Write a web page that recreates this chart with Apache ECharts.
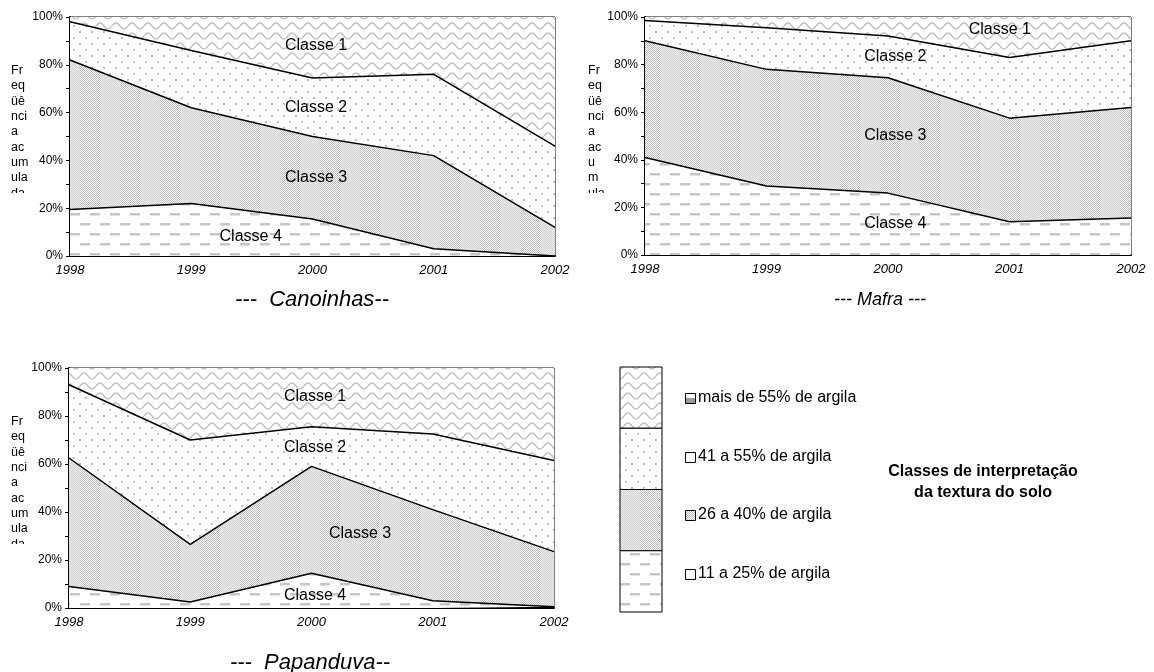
<!DOCTYPE html>
<html>
<head>
<meta charset="utf-8">
<script src="https://cdn.jsdelivr.net/npm/echarts@6/dist/echarts.min.js"></script>
<style>
  html, body { margin: 0; padding: 0; background: #fff; }
  #chart { width: 1154px; height: 672px; }
</style>
</head>
<body>
<div id="chart"></div>
<script>
// Years on the horizontal axis
const years = ['1998', '1999', '2000', '2001', '2002'];
const yTickLabels = ['0%', '20%', '40%', '60%', '80%', '100%'];
const classNames = ['Classe 1', 'Classe 2', 'Classe 3', 'Classe 4'];

// Share of each texture class (%), per year — Canoinhas
const canoinhasC4 = [19.5, 22, 15.5, 3, 0];
const canoinhasC3 = [62.5, 40, 34.5, 39, 12];
const canoinhasC2 = [16, 24, 24.5, 34, 34];
const canoinhasC1 = [2, 14, 25.5, 24, 54];

// Mafra
const mafraC4 = [41, 29, 26, 14, 15.5];
const mafraC3 = [49, 49, 48.5, 43.5, 46.5];
const mafraC2 = [8.5, 17.5, 17.5, 25.5, 28];
const mafraC1 = [1.5, 4.5, 8, 17, 10];

// Papanduva
const papanduvaC4 = [9, 2.5, 14.5, 3, 0.5];
const papanduvaC3 = [53.5, 24, 44.5, 38, 23];
const papanduvaC2 = [30.5, 43.5, 16.5, 31.5, 38];
const papanduvaC1 = [7, 30, 24.5, 27.5, 38.5];

const cityTitles = ['---  Canoinhas--', '--- Mafra ---', '---  Papanduva--'];
const legendLabels = ['mais de 55% de argila', '41 a 55% de argila', '26 a 40% de argila', '11 a 25% de argila'];
const legendTitle = 'Classes de interpretação\nda textura do solo';
const axisNameFull = ['Fr', 'eq', 'üê', 'nci', 'a', 'ac', 'um', 'ula', 'da'];
const axisNameNarrow = ['Fr', 'eq', 'üê', 'nci', 'a', 'ac', 'u', 'm', 'ula'];

// ---- layout ----
const grids = [
  { left: 70, top: 17, width: 485, height: 239 },
  { left: 645, top: 17, width: 486, height: 238 },
  { left: 69, top: 368, width: 485, height: 240 }
];
// class-label anchors, in (year index, percent)
const labelAnchors = [
  [[2.03, 88], [2.03, 62], [2.03, 33], [1.49, 8]],
  [[2.92, 94.5], [2.06, 83.5], [2.06, 50], [2.06, 13]],
  [[2.03, 88], [2.03, 67], [2.4, 31], [2.03, 5]]
];

// ---- fill patterns ----
function tile(w, h, draw) {
  const c = document.createElement('canvas');
  c.width = w; c.height = h;
  const ctx = c.getContext('2d');
  ctx.fillStyle = '#fff';
  ctx.fillRect(0, 0, w, h);
  draw(ctx, w, h);
  return c;
}
const waveTile = tile(16, 10, (ctx) => {
  ctx.strokeStyle = '#c2c2c2';
  ctx.lineWidth = 1.5;
  ctx.beginPath();
  ctx.moveTo(0, 6);
  ctx.quadraticCurveTo(4, 0, 8, 6);
  ctx.quadraticCurveTo(12, 12, 16, 6);
  ctx.stroke();
});
const dotTile = tile(12, 12, (ctx) => {
  ctx.fillStyle = '#c0c0c0';
  ctx.fillRect(1, 1, 2, 2);
  ctx.fillRect(7, 7, 2, 2);
});
// fine checkerboard alternating with lighter vertical bands
const checkTile = tile(40, 8, (ctx, w, h) => {
  const img = ctx.createImageData(w, h);
  for (let y = 0; y < h; y++) {
    for (let x = 0; x < w; x++) {
      const on = (x + y) % 2 === 0;
      let v;
      if (x < 20) v = on ? 186 : 252;
      else v = on ? 212 : 234;
      const i = (y * w + x) * 4;
      img.data[i] = img.data[i + 1] = img.data[i + 2] = v;
      img.data[i + 3] = 255;
    }
  }
  ctx.putImageData(img, 0, 0);
});
const dashTile = tile(20, 20, (ctx) => {
  ctx.fillStyle = '#c6c6c6';
  ctx.fillRect(0, 3, 10, 2.5);
  ctx.fillRect(10, 13, 10, 2.5);
});
const pat = (c) => ({ image: c, repeat: 'repeat' });
const classFills = [pat(waveTile), pat(dotTile), pat(checkTile), pat(dashTile)];

const cityData = [
  [canoinhasC4, canoinhasC3, canoinhasC2, canoinhasC1],
  [mafraC4, mafraC3, mafraC2, mafraC1],
  [papanduvaC4, papanduvaC3, papanduvaC2, papanduvaC1]
];

const chart = echarts.init(document.getElementById('chart'), null, { renderer: 'canvas' });

const gridOpts = grids.map(g => Object.assign({
  show: true, borderColor: '#000', borderWidth: 1, backgroundColor: '#fff', containLabel: false
}, g));

const xAxes = grids.map((g, i) => ({
  type: 'category', gridIndex: i, data: years, boundaryGap: false,
  axisLine: { lineStyle: { color: '#000', width: 2 } },
  axisTick: { show: false },
  axisLabel: { fontFamily: 'Arial, Liberation Sans', fontSize: 13, fontStyle: 'italic', color: '#000', margin: 8 },
  splitLine: { show: false }
}));
const yAxes = grids.map((g, i) => ({
  type: 'value', gridIndex: i, min: 0, max: 100, interval: 20,
  axisLine: { show: true, lineStyle: { color: '#000', width: 2 } },
  axisTick: { show: true, length: 4, lineStyle: { color: '#000' } },
  minorTick: { show: true, splitNumber: 2, length: 4, lineStyle: { color: '#000' } },
  axisLabel: {
    fontFamily: 'Arial, Liberation Sans', fontSize: 12, color: '#000', margin: 7,
    formatter: (v) => yTickLabels[Math.round(v / 20)]
  },
  splitLine: { show: false }
}));

const series = [];
cityData.forEach((classes, gi) => {
  // filled bands, stacked from class 4 upward
  classes.forEach((vals, k) => {
    series.push({
      type: 'line', xAxisIndex: gi, yAxisIndex: gi, stack: 'area' + gi,
      data: vals, symbol: 'none', silent: true, z: 2,
      lineStyle: { width: 0 },
      areaStyle: { color: classFills[3 - k], opacity: 1 }
    });
  });
  // black boundary lines between classes
  classes.slice(0, 3).forEach((vals) => {
    series.push({
      type: 'line', xAxisIndex: gi, yAxisIndex: gi, stack: 'edge' + gi,
      data: vals, symbol: 'none', silent: true, z: 3,
      lineStyle: { color: '#000', width: 1.5 }
    });
  });
});

const font = (size, extra) => (extra ? extra + ' ' : '') + size + 'px Arial, "Liberation Sans", sans-serif';

const graphics = [];
// class labels inside the plots
labelAnchors.forEach((anchors, gi) => {
  const g = grids[gi];
  anchors.forEach((a, k) => {
    graphics.push({
      type: 'text', z: 10,
      x: g.left + a[0] * g.width / 4,
      y: g.top + (1 - a[1] / 100) * g.height,
      style: { text: classNames[k], font: font(16), fill: '#000', align: 'center', verticalAlign: 'middle' }
    });
  });
});
// vertical axis titles, wrapped and clipped at the bottom
const axisTitleSpecs = [
  { x: 11, y: 63, lines: axisNameFull, cut: 193 },
  { x: 588, y: 63, lines: axisNameNarrow, cut: 193 },
  { x: 11, y: 414, lines: axisNameFull, cut: 544 }
];
axisTitleSpecs.forEach(s => {
  graphics.push({
    type: 'text', z: 10, x: s.x, y: s.y,
    style: { text: s.lines.join('\n'), font: font(12.5), lineHeight: 15.3, fill: '#000', align: 'left', verticalAlign: 'top' }
  });
  graphics.push({
    type: 'rect', z: 11, shape: { x: s.x - 4, y: s.cut, width: 30, height: 14 },
    style: { fill: '#fff' }
  });
});
// city captions
const captionSpecs = [
  { x: 312, y: 300, size: 22 },
  { x: 880, y: 300, size: 18 },
  { x: 310, y: 663, size: 22 }
];
cityTitles.forEach((t, i) => {
  const c = captionSpecs[i];
  graphics.push({
    type: 'text', z: 10, x: c.x, y: c.y,
    style: { text: t, font: font(c.size, 'italic'), fill: '#000', align: 'center', verticalAlign: 'middle' }
  });
});
// class key: patterned column
const keyBox = { x: 620, y: 367, w: 42, h: 245 };
const band = keyBox.h / 4;
for (let k = 0; k < 4; k++) {
  graphics.push({
    type: 'rect', z: 10,
    shape: { x: keyBox.x, y: keyBox.y + k * band, width: keyBox.w, height: band },
    style: { fill: classFills[k], stroke: '#000', lineWidth: 1 }
  });
}
// class key: swatches and labels
const keyRowsY = [398, 457, 515, 574];
const swatchFills = [
  { type: 'linear', x: 0, y: 0, x2: 0, y2: 1, colorStops: [{ offset: 0, color: '#fff' }, { offset: 0.5, color: '#fff' }, { offset: 0.5, color: '#9a9a9a' }, { offset: 1, color: '#9a9a9a' }] },
  '#fff',
  pat(checkTile),
  '#fff'
];
legendLabels.forEach((t, k) => {
  graphics.push({
    type: 'rect', z: 10,
    shape: { x: 685.5, y: keyRowsY[k] - 4.5, width: 10, height: 10 },
    style: { fill: swatchFills[k], stroke: '#000', lineWidth: 1 }
  });
  graphics.push({
    type: 'text', z: 10, x: 698, y: keyRowsY[k],
    style: { text: t, font: font(16), fill: '#000', align: 'left', verticalAlign: 'middle' }
  });
});
graphics.push({
  type: 'text', z: 10, x: 983, y: 482,
  style: { text: legendTitle, font: font(16, 'bold'), lineHeight: 21, fill: '#000', align: 'center', verticalAlign: 'middle' }
});

chart.setOption({
  animation: false,
  backgroundColor: '#fff',
  grid: gridOpts,
  xAxis: xAxes,
  yAxis: yAxes,
  series: series,
  graphic: graphics
});
</script>
</body>
</html>
